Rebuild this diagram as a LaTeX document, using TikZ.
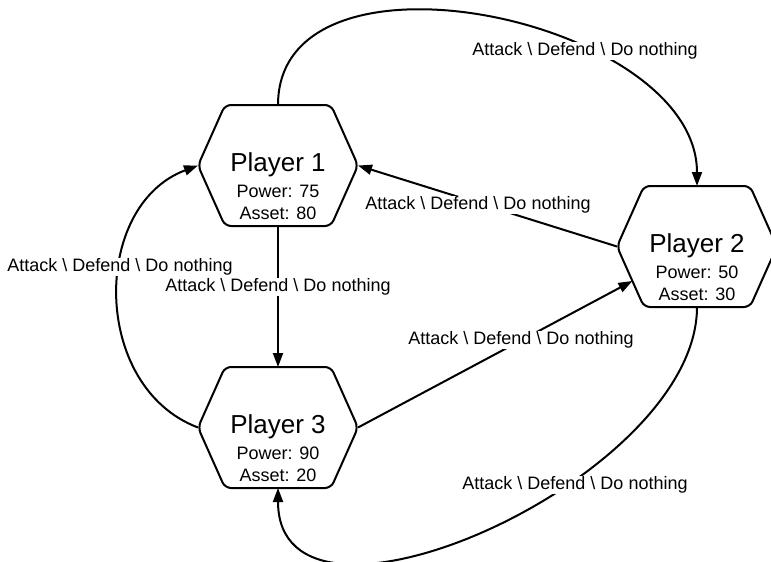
\documentclass[tikz,border=0pt]{standalone}
\usepackage{fontspec}
\setmainfont{Liberation Sans}
\usetikzlibrary{arrows.meta,calc}

\tikzset{
  hexbody/.style={minimum width=160pt, minimum height=121pt, inner sep=0pt, outer sep=0pt},
  hexline/.style={draw=black, line width=2pt, rounded corners=6pt, line join=round},
  nametext/.style={font=\fontsize{26}{30}\selectfont, anchor=base, inner sep=0pt},
  stattext/.style={font=\fontsize{18}{21}\selectfont, anchor=base, inner sep=0pt},
  move/.style={draw=black, line width=2pt, -{Triangle[length=14pt,width=10pt]}},
  movelabel/.style={font=\fontsize{18}{21}\selectfont, fill=white, inner sep=1pt},
}

\newcommand{\movetext}{Attack \textbackslash{} Defend \textbackslash{} Do nothing}

% name, x, y, title, power, asset
\newcommand{\playerhex}[6]{%
  \node[hexbody] (#1) at (#2,#3) {};
  \coordinate (#1-nw) at ([xshift=27pt]#1.north west);
  \coordinate (#1-ne) at ([xshift=-27pt]#1.north east);
  \coordinate (#1-sw) at ([xshift=27pt]#1.south west);
  \coordinate (#1-se) at ([xshift=-27pt]#1.south east);
  \draw[hexline] (#1.north) -- (#1-ne) -- (#1.east) -- (#1-se) -- (#1-sw)
    -- (#1.west) -- (#1-nw) -- cycle;
  \node[nametext] (#1-name) at ([yshift=-6pt]#1.center) {#4};
  \node[stattext] (#1-power) at ([yshift=-32pt]#1.center) {Power: #5};
  \node[stattext] (#1-asset) at ([yshift=-54pt]#1.center) {Asset: #6};
}

\begin{document}
\begin{tikzpicture}[x=1pt, y=-1pt]
  \useasboundingbox (0,0) rectangle (771,562);
  \clip (0,0) rectangle (771,562);

  % players
  \playerhex{p1}{278}{165.5}{Player 1}{75}{80}
  \playerhex{p2}{697}{246.5}{Player 2}{50}{30}
  \playerhex{p3}{278}{427.5}{Player 3}{90}{20}

  % arrow end on the lower left edge of player 2
  \coordinate (p2-in) at ($(p2.west)!0.57!(p2-sw)$);

  % moves
  \draw[move] (p1.north) .. controls (278,-68.7) and (697,18.3) .. (p2.north);
  \draw[move] (p2.west) -- (p1.east);
  \draw[move] (p1.south) -- (p3.north);
  \draw[move] (p3.west) .. controls (91,387) and (91,205.5) .. (p1.west);
  \draw[move] (p3.east) -- (p2-in);
  \draw[move] (p2.south) .. controls (697,480) and (278,664) .. (p3.south);

  % move labels
  \node[movelabel] (m12) at (585,51) {\movetext};
  \node[movelabel] (m21) at (478,205) {\movetext};
  \node[movelabel] (m13) at (278,287) {\movetext};
  \node[movelabel] (m31) at (120,267) {\movetext};
  \node[movelabel] (m32) at (521,340) {\movetext};
  \node[movelabel] (m23) at (575,485) {\movetext};
\end{tikzpicture}
\end{document}
